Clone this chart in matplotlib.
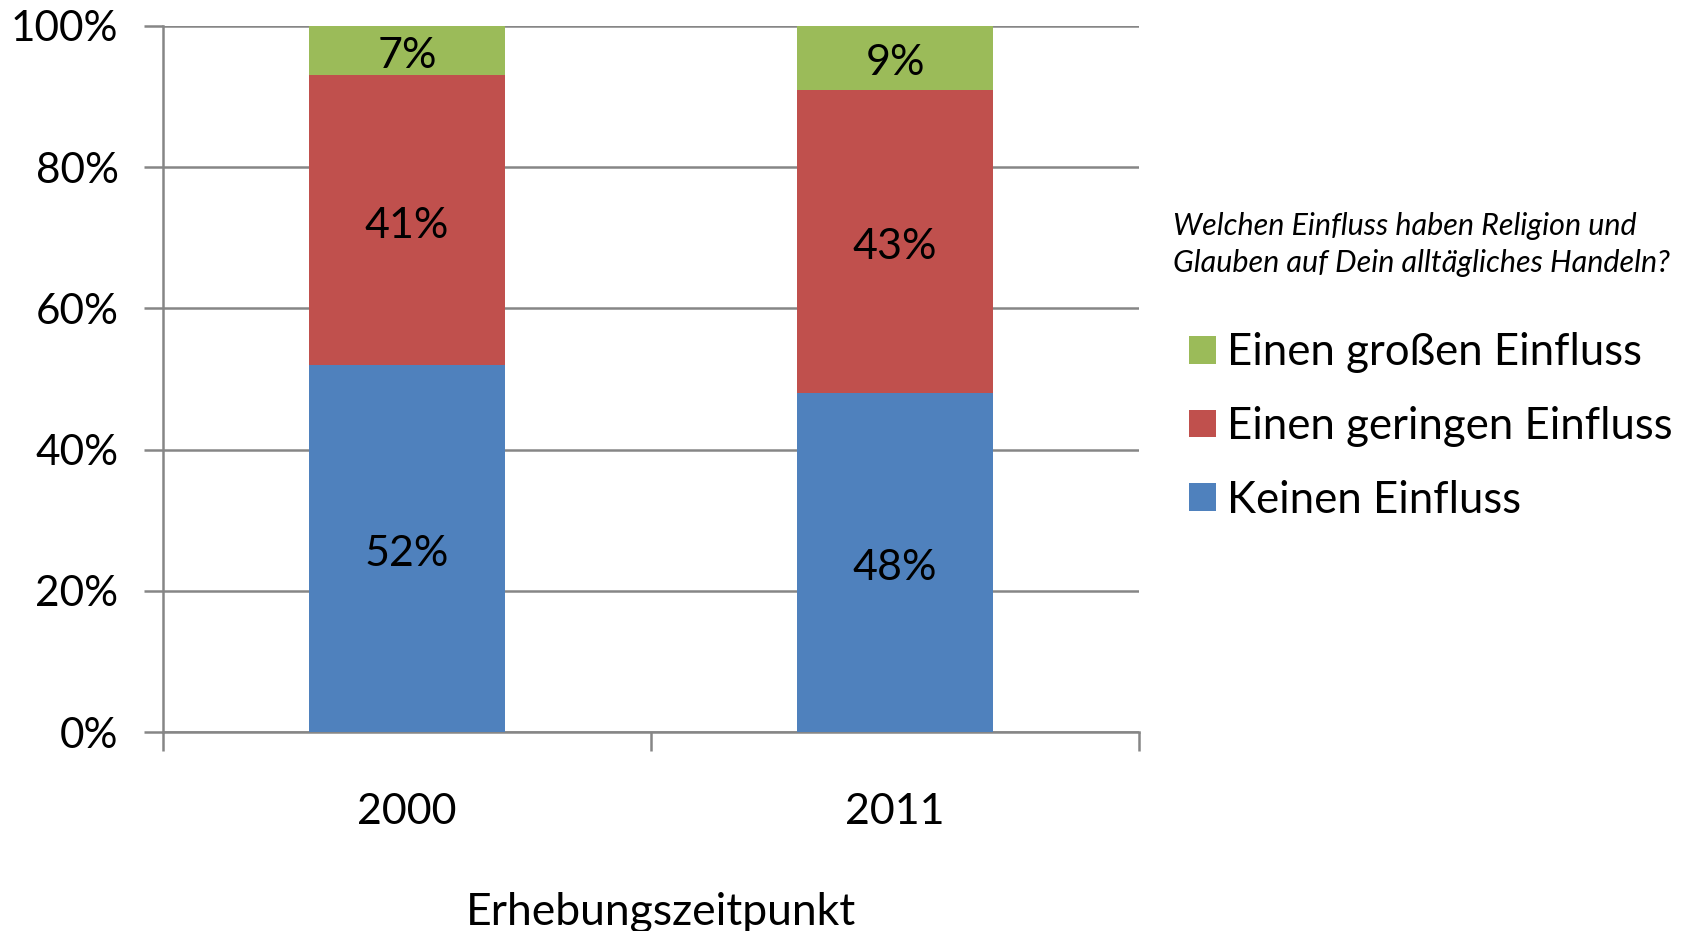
import matplotlib.pyplot as plt
import numpy as np

# Data
years = ['2000', '2011']
keinen = [52, 48]
geringen = [41, 43]
grossen = [7, 9]

labels = ['Keinen Einfluss', 'Einen geringen Einfluss', 'Einen großen Einfluss']
colors = ['#4F81BD', '#C0504D', '#9BBB59']

plt.rcParams['font.family'] = ['Lato', 'DejaVu Sans']
GRID = '#868686'

fig = plt.figure(figsize=(16.96, 9.31), dpi=100)
ax = fig.add_axes([0.0961, 0.2137, 0.5755, 0.7584])

x = np.arange(len(years))
bottom = np.zeros(len(years))
handles = []
for vals, lab, col in zip([keinen, geringen, grossen], labels, colors):
    bars = ax.bar(x, vals, width=0.4, bottom=bottom, color=col, label=lab, zorder=3)
    handles.append(bars)
    for xi, b, v in zip(x, bottom, vals):
        ax.annotate(f'{v}%', (xi, b + v / 2), xytext=(0, -4), textcoords='offset points',
                    ha='center', va='center', fontsize=31, zorder=4)
    bottom = bottom + np.array(vals)

ax.set_xlim(-0.5, 1.5)
ax.set_ylim(0, 100)
ax.set_yticks(range(0, 101, 20))
ax.set_yticklabels([f'{v}%' for v in range(0, 101, 20)], fontsize=30.5)
ax.yaxis.grid(True, color=GRID, linewidth=1.8, zorder=0)

# category boundary ticks below the baseline
ax.set_xticks([-0.5, 0.5, 1.5])
ax.set_xticklabels([])
ax.set_xticks(x, minor=True)
ax.set_xticklabels(years, minor=True, fontsize=31)
ax.tick_params(axis='x', which='minor', length=0, pad=44)
ax.tick_params(axis='x', which='major', length=14, width=1.8, color=GRID)
ax.tick_params(axis='y', length=14, width=1.8, color=GRID, pad=18)

for side in ['top', 'right']:
    ax.spines[side].set_visible(False)
for side in ['left', 'bottom']:
    ax.spines[side].set_color(GRID)
    ax.spines[side].set_linewidth(1.8)

ax.set_xlabel('Erhebungszeitpunkt', fontsize=32)
ax.xaxis.set_label_coords(0.51, -0.226)

fig.text(0.6916, 0.737, 'Welchen Einfluss haben Religion und\nGlauben auf Dein alltägliches Handeln?',
         fontsize=22, style='italic', va='center', ha='left', linespacing=1.4)

fig.legend(handles[::-1], labels[::-1], loc='upper left', bbox_to_anchor=(0.691, 0.662),
           frameon=False, fontsize=31.5, handlelength=0.6, handleheight=0.6,
           handletextpad=0.25, labelspacing=0.75, borderaxespad=0)

fig.savefig('out.png', dpi=100)
